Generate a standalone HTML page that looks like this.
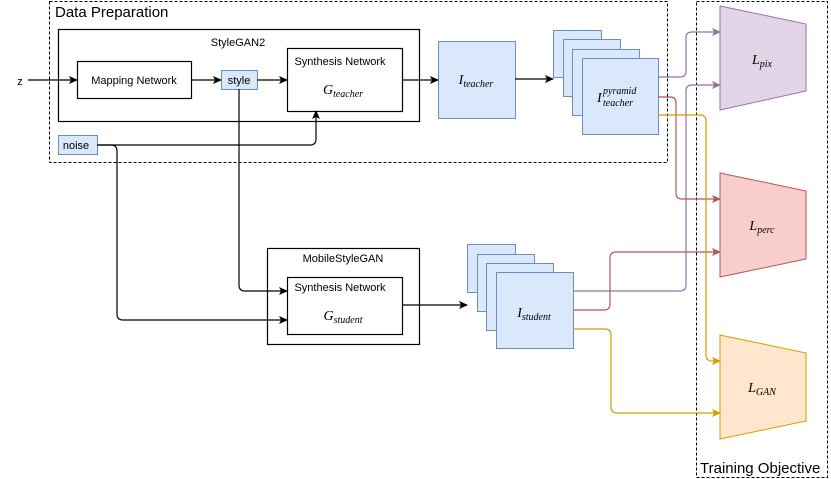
<!DOCTYPE html>
<html><head><style>body{margin:0;background:#fff}svg{display:block}</style></head><body>
<svg width="831" height="479" viewBox="0 0 831 479" xmlns="http://www.w3.org/2000/svg" font-family="Liberation Sans, sans-serif">
<defs>
<marker id="ak" markerWidth="10" markerHeight="10" refX="8" refY="5" orient="auto" markerUnits="userSpaceOnUse"><path d="M0,1 L9,5 L0,9 L2,5 z" fill="#000"/></marker>
<marker id="ap" markerWidth="10" markerHeight="10" refX="8" refY="5" orient="auto" markerUnits="userSpaceOnUse"><path d="M0,1 L9,5 L0,9 L2,5 z" fill="#9673a6"/></marker>
<marker id="ar" markerWidth="10" markerHeight="10" refX="8" refY="5" orient="auto" markerUnits="userSpaceOnUse"><path d="M0,1 L9,5 L0,9 L2,5 z" fill="#b85450"/></marker>
<marker id="ay" markerWidth="10" markerHeight="10" refX="8" refY="5" orient="auto" markerUnits="userSpaceOnUse"><path d="M0,1 L9,5 L0,9 L2,5 z" fill="#d79b00"/></marker>
</defs>
<g fill="none" stroke="#000" stroke-dasharray="3,2">
<rect x="49.5" y="1.5" width="618" height="161"/>
<rect x="696.5" y="1.5" width="131" height="476"/>
</g>
<text x="55" y="17" font-size="15">Data Preparation</text>
<text x="700" y="473" font-size="15">Training Objective</text>
<g fill="none" stroke="#000" stroke-width="1.2">
<rect x="58.5" y="29.5" width="361" height="92"/>
<rect x="77.5" y="61.5" width="114" height="37"/>
<rect x="287.5" y="48.5" width="115" height="63"/>
<rect x="267.5" y="248.5" width="152" height="96"/>
<rect x="287.5" y="277.5" width="115" height="57"/>
</g>
<g fill="#dae8fc" stroke="#6c8ebf">
<rect x="221.5" y="70.5" width="36" height="19"/>
<rect x="58.5" y="135.5" width="39" height="19"/>
<rect x="438.5" y="41.5" width="77" height="77"/>
<rect x="553.5" y="30.5" width="48" height="47"/>
<rect x="563.5" y="39.5" width="57" height="57"/>
<rect x="572.5" y="49.5" width="67" height="66"/>
<rect x="582.5" y="58.5" width="76" height="76"/>
<rect x="467.5" y="244.5" width="48" height="48"/>
<rect x="477.5" y="254.5" width="57" height="57"/>
<rect x="486.5" y="263.5" width="67" height="67"/>
<rect x="496.5" y="272.5" width="77" height="76"/>
</g>
<g font-size="11" text-anchor="middle">
<text x="238" y="46">StyleGAN2</text>
<text x="134" y="84">Mapping Network</text>
<text x="239" y="84">style</text>
<text x="76" y="149">noise</text>
<text x="340" y="65">Synthesis Network</text>
<text x="343" y="262">MobileStyleGAN</text>
<text x="340" y="291">Synthesis Network</text>
<text x="20" y="85">z</text>
</g>
<g font-family="Liberation Serif, serif" font-style="italic" font-size="14" text-anchor="middle">
<text x="343" y="94">G<tspan font-size="10" dy="3">teacher</tspan></text>
<text x="343" y="320">G<tspan font-size="10" dy="3">student</tspan></text>
<text x="476" y="84">I<tspan font-size="10" dy="3">teacher</tspan></text>
<text x="534" y="317">I<tspan font-size="10" dy="3">student</tspan></text>
<text x="597" y="102" text-anchor="start">I</text>
<text x="603" y="94" font-size="10" text-anchor="start">pyramid</text>
<text x="603" y="106" font-size="10" text-anchor="start">teacher</text>
</g>
<g fill="none" stroke="#000" stroke-width="1.2">
<path d="M28,80 H77" marker-end="url(#ak)"/>
<path d="M191,80 H221" marker-end="url(#ak)"/>
<path d="M257,80 H287" marker-end="url(#ak)"/>
<path d="M402,80 H438" marker-end="url(#ak)"/>
<path d="M515,79 H553" marker-end="url(#ak)"/>
<path d="M402,305 H467" marker-end="url(#ak)"/>
<path d="M97,145 H310 Q316,145 316,139 V111" marker-end="url(#ak)"/>
<path d="M97,145 H111 Q117,145 117,151 V314 Q117,320 123,320 H287" marker-end="url(#ak)"/>
<path d="M239,89 V285 Q239,291 245,291 H287" marker-end="url(#ak)"/>
</g>
<polygon points="720,6 806,24 806,91 720,110" fill="#e1d5e7" stroke="#9673a6"/>
<polygon points="720,173 806,191 806,259 720,277" fill="#f8cecc" stroke="#b85450"/>
<polygon points="720,335 806,353 806,421 720,439" fill="#ffe6cc" stroke="#d79b00"/>
<g font-family="Liberation Serif, serif" font-style="italic" font-size="14" text-anchor="middle">
<text x="762" y="64">L<tspan font-size="10" dy="3">pix</tspan></text>
<text x="762" y="230">L<tspan font-size="10" dy="3">perc</tspan></text>
<text x="762" y="392">L<tspan font-size="10" dy="3">GAN</tspan></text>
</g>
<g fill="none" stroke-width="1.2">
<path d="M658,77 H680 Q686,77 686,71 V38 Q686,32 692,32 H720" stroke="#9673a6" marker-end="url(#ap)"/>
<path d="M573,291 H680 Q686,291 686,285 V91 Q686,85 692,85 H720" stroke="#9673a6" marker-end="url(#ap)"/>
<path d="M658,97 H670 Q676,97 676,103 V193 Q676,199 682,199 H720" stroke="#b85450" marker-end="url(#ar)"/>
<path d="M573,310 H604 Q610,310 610,304 V258 Q610,252 616,252 H720" stroke="#b85450" marker-end="url(#ar)"/>
<path d="M658,115 H700 Q706,115 706,121 V355 Q706,361 712,361 H720" stroke="#d79b00" marker-end="url(#ay)"/>
<path d="M573,329 H605 Q611,329 611,335 V407 Q611,413 617,413 H720" stroke="#d79b00" marker-end="url(#ay)"/>
</g>
</svg>
</body></html>
